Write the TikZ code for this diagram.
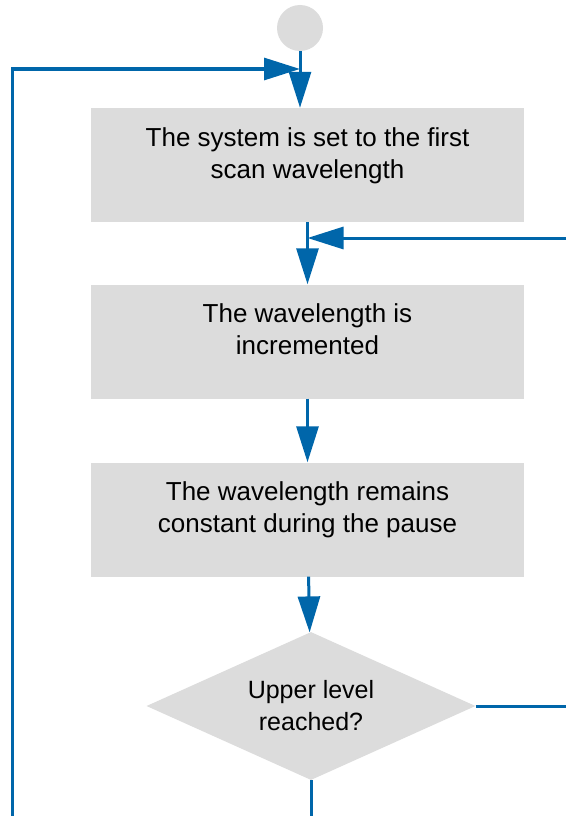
\documentclass[tikz,border=0pt]{standalone}
\usepackage{fontspec}
\setmainfont{Liberation Sans}
\usetikzlibrary{shapes.geometric,arrows.meta}
\definecolor{flowblue}{RGB}{0,102,170}
\definecolor{boxgray}{RGB}{220,220,220}
\tikzset{
  stepbox/.style={rectangle, fill=boxgray, minimum width=433pt, minimum height=114pt,
    align=center, text depth=24pt, font=\fontsize{26}{32}\selectfont},
  decide/.style={diamond, fill=boxgray, minimum width=329pt, minimum height=148pt,
    aspect=2.22, inner sep=0pt, align=center, font=\fontsize{25}{32}\selectfont},
  flow/.style={draw=flowblue, line width=3pt, -{Triangle[length=36pt,width=22pt]}},
  plain/.style={draw=flowblue, line width=3pt}
}
\begin{document}
\begin{tikzpicture}[x=1pt, y=-1pt]
        \useasboundingbox (0, 0) rectangle (566, 816);
        \node (ST) at (300, 28) [circle, fill=boxgray, minimum size=46pt, inner sep=0pt] {};
        \node (B1) at (307.5, 165) [stepbox] {The system is set to the first\\scan wavelength};
        \node (B2) at (307.5, 341.5) [stepbox] {The wavelength is\\incremented};
        \node (B3) at (307.5, 519.5) [stepbox] {The wavelength remains\\constant during the pause};
        \node (D)  at (311, 706) [decide] {Upper level\\reached?};
        \coordinate (LB) at (12, 816);
        \coordinate (LJ) at (300, 69);
        \coordinate (RT) at (566, 238);
        \coordinate (RB) at (566, 706);
        \coordinate (BB) at (311, 816);
        \draw [flow] (ST) -- (ST |- B1.north);
        \draw [flow] (LB) |- (LJ);
        \draw [flow] (B1) -- (B2);
        \draw [flow] (RT) -- (B1.south |- RT);
        \draw [flow] (B2) -- (B3);
        \draw [flow] (B3) -- (D);
        \draw [plain] (D.east) -- (RB);
        \draw [plain] (D.south) -- (BB);
\end{tikzpicture}
\end{document}
